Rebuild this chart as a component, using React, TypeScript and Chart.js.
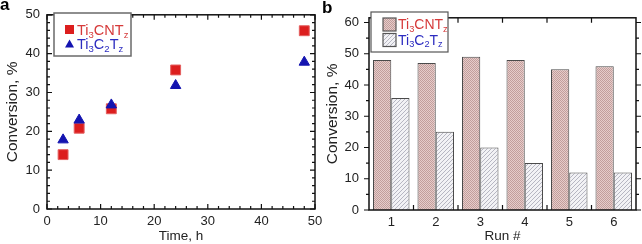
import React, { useEffect, useRef } from "react";
import { Chart, registerables } from "chart.js";

Chart.register(...registerables);

// ---------------- data ----------------
const seriesNames = ["Ti_3CNT_z", "Ti_3C_2T_z"];
const timeHours = [3, 6, 12, 24, 48];
const ti3cntTime = [14, 20.8, 25.8, 35.8, 45.9];
const ti3c2Time = [17.8, 22.9, 26.8, 31.8, 37.8];
const xTicksA = [0, 10, 20, 30, 40, 50];
const yTicksA = [0, 10, 20, 30, 40, 50];

const runLabels = ["1", "2", "3", "4", "5", "6"];
const ti3cntRun = [48, 47, 49, 48, 45, 46];
const ti3c2Run = [35.8, 25, 20, 15, 12, 12];
const yTicksB = [0, 10, 20, 30, 40, 50, 60];

// ---------------- styles ----------------
const FONT = '"Liberation Sans", Arial, Helvetica, sans-serif';
const TXT = "#222";
const RED = "#dc1e1e";
const BLUE = "#1414b0";
const RED_TXT = "#d63a3a";
const BLUE_TXT = "#2c2cc0";

function makeCrossPattern(): CanvasPattern | string {
  const c = document.createElement("canvas");
  c.width = 2;
  c.height = 2;
  const g = c.getContext("2d");
  if (!g) return "#d8baba";
  g.fillStyle = "#e6ccca";
  g.fillRect(0, 0, 2, 2);
  g.fillStyle = "#c29e9c";
  g.fillRect(0, 0, 1, 1);
  g.fillRect(1, 1, 1, 1);
  return g.createPattern(c, "repeat") || "#d8baba";
}

function makeDiagPattern(): CanvasPattern | string {
  const c = document.createElement("canvas");
  c.width = 4;
  c.height = 4;
  const g = c.getContext("2d");
  if (!g) return "#e2e2e6";
  g.fillStyle = "#f2f2f5";
  g.fillRect(0, 0, 4, 4);
  g.fillStyle = "#b6b6c2";
  for (let i = 0; i < 4; i++) g.fillRect(i, 3 - i, 1, 1);
  return g.createPattern(c, "repeat") || "#e2e2e6";
}

// draw text where "_x" renders x as subscript
function drawRich(ctx: CanvasRenderingContext2D, text: string, x: number, yMid: number, size: number, color: string) {
  ctx.save();
  ctx.fillStyle = color;
  ctx.textBaseline = "alphabetic";
  ctx.textAlign = "left";
  const base = yMid + size * 0.36;
  let cx = x;
  let run = "";
  const flush = () => {
    if (!run) return;
    ctx.font = `${size}px ${FONT}`;
    ctx.fillText(run, cx, base);
    cx += ctx.measureText(run).width;
    run = "";
  };
  for (let i = 0; i < text.length; i++) {
    const ch = text[i];
    if (ch === "_" && i + 1 < text.length) {
      flush();
      const s = text[i + 1];
      const fs = size * 0.66;
      ctx.font = `${fs}px ${FONT}`;
      ctx.fillText(s, cx, base + size * 0.2);
      cx += ctx.measureText(s).width;
      i++;
    } else {
      run += ch;
    }
  }
  flush();
  ctx.restore();
}

function panelLabel(text: string, x: number, y: number) {
  return {
    id: "panelLabel",
    afterDraw(chart: any) {
      const ctx = chart.ctx as CanvasRenderingContext2D;
      ctx.save();
      ctx.fillStyle = "#000";
      ctx.font = `bold 17px ${FONT}`;
      ctx.textBaseline = "alphabetic";
      ctx.textAlign = "left";
      ctx.fillText(text, x, y);
      ctx.restore();
    },
  };
}

const frameA = {
  id: "frameA",
  afterDatasetsDraw(chart: any) {
    const ctx = chart.ctx as CanvasRenderingContext2D;
    const { left, right, top, bottom } = chart.chartArea;
    const x = chart.scales.x;
    const y = chart.scales.y;
    ctx.save();
    ctx.strokeStyle = "#111";
    ctx.lineWidth = 1.2;
    ctx.beginPath();
    const minorStep = 2;
    for (let v = xTicksA[0]; v <= xTicksA[xTicksA.length - 1] + 1e-9; v += minorStep) {
      const L = xTicksA.includes(v) ? 5 : 3;
      const px = x.getPixelForValue(v);
      ctx.moveTo(px, bottom);
      ctx.lineTo(px, bottom - L);
      ctx.moveTo(px, top);
      ctx.lineTo(px, top + L);
    }
    for (let v = yTicksA[0]; v <= yTicksA[yTicksA.length - 1] + 1e-9; v += minorStep) {
      const L = yTicksA.includes(v) ? 5 : 3;
      const py = y.getPixelForValue(v);
      ctx.moveTo(left, py);
      ctx.lineTo(left + L, py);
      ctx.moveTo(right, py);
      ctx.lineTo(right - L, py);
    }
    ctx.stroke();
    ctx.lineWidth = 1.5;
    ctx.strokeRect(left, top, right - left, bottom - top);
    ctx.restore();
  },
};

const frameB = {
  id: "frameB",
  afterDatasetsDraw(chart: any) {
    const ctx = chart.ctx as CanvasRenderingContext2D;
    const { left, right, top, bottom } = chart.chartArea;
    const x = chart.scales.x;
    const y = chart.scales.y;
    ctx.save();
    ctx.strokeStyle = "#111";
    ctx.lineWidth = 1.2;
    ctx.beginPath();
    for (let v = 0; v <= y.max + 1e-9; v += 5) {
      const L = yTicksB.includes(v) ? 5 : 3;
      const py = y.getPixelForValue(v);
      ctx.moveTo(left, py);
      ctx.lineTo(left - L, py);
      ctx.moveTo(right, py);
      ctx.lineTo(right + L, py);
    }
    for (let i = 0; i < runLabels.length - 1; i++) {
      const px = (x.getPixelForValue(i) + x.getPixelForValue(i + 1)) / 2;
      ctx.moveTo(px, bottom);
      ctx.lineTo(px, bottom - 5);
      ctx.moveTo(px, top);
      ctx.lineTo(px, top + 5);
    }
    ctx.stroke();
    ctx.lineWidth = 1.5;
    ctx.strokeRect(left, top, right - left, bottom - top);
    ctx.restore();
  },
};

const legendA = {
  id: "legendA",
  afterDraw(chart: any) {
    const ctx = chart.ctx as CanvasRenderingContext2D;
    const ds = chart.data.datasets;
    ctx.save();
    ctx.fillStyle = "#fff";
    ctx.fillRect(54, 13, 77, 43);
    ctx.strokeStyle = "#6a6a6a";
    ctx.lineWidth = 1.5;
    ctx.strokeRect(54, 13, 77, 43);
    // square marker
    ctx.fillStyle = RED;
    ctx.fillRect(65, 25, 9, 9);
    // triangle marker
    ctx.fillStyle = BLUE;
    ctx.beginPath();
    ctx.moveTo(69.5, 39.5);
    ctx.lineTo(74, 47.5);
    ctx.lineTo(65, 47.5);
    ctx.closePath();
    ctx.fill();
    ctx.restore();
    drawRich(ctx, ds[0].label, 77, 29.5, 14.5, RED_TXT);
    drawRich(ctx, ds[1].label, 77, 44, 14.5, BLUE_TXT);
  },
};

const legendB = {
  id: "legendB",
  afterDraw(chart: any) {
    const ctx = chart.ctx as CanvasRenderingContext2D;
    const ds = chart.data.datasets;
    ctx.save();
    ctx.fillStyle = "#fff";
    ctx.fillRect(51, 12, 77, 40);
    ctx.strokeStyle = "#555";
    ctx.lineWidth = 1.2;
    ctx.strokeRect(51, 12, 77, 40);
    ctx.fillStyle = ds[0].backgroundColor;
    ctx.fillRect(63, 18, 13, 13);
    ctx.strokeRect(63, 18, 13, 13);
    ctx.fillStyle = ds[1].backgroundColor;
    ctx.fillRect(63, 33.5, 13, 13);
    ctx.strokeRect(63, 33.5, 13, 13);
    ctx.restore();
    drawRich(ctx, ds[0].label, 78, 24, 14, RED_TXT);
    drawRich(ctx, ds[1].label, 78, 39.5, 14, BLUE_TXT);
  },
};

function configA(): any {
  return {
    type: "scatter",
    data: {
      datasets: [
        {
          label: seriesNames[0],
          data: timeHours.map((t, i) => ({ x: t, y: ti3cntTime[i] })),
          pointStyle: "rect",
          pointRadius: 7,
          backgroundColor: RED,
          borderColor: "#e46060",
          borderWidth: 1,
          order: 1,
        },
        {
          label: seriesNames[1],
          data: timeHours.map((t, i) => ({ x: t, y: ti3c2Time[i] })),
          pointStyle: "triangle",
          pointRadius: 6,
          backgroundColor: BLUE,
          borderColor: BLUE,
          borderWidth: 1,
          order: 0,
        },
      ],
    },
    options: {
      responsive: false,
      animation: false,
      devicePixelRatio: 1,
      layout: { padding: { top: 11, right: 15, left: 0, bottom: 0 } },
      plugins: { legend: { display: false }, tooltip: { enabled: false } },
      scales: {
        x: {
          type: "linear",
          min: xTicksA[0],
          max: xTicksA[xTicksA.length - 1],
          afterBuildTicks: (s: any) => {
            s.ticks = xTicksA.map((v) => ({ value: v }));
          },
          afterFit: (s: any) => {
            s.height = 35;
          },
          grid: { display: false, drawTicks: false },
          border: { display: false },
          ticks: { padding: 5, color: TXT, font: { family: FONT, size: 13 }, autoSkip: false, maxRotation: 0 },
          title: { display: true, text: "Time, h", color: TXT, font: { family: FONT, size: 13.5 }, padding: { top: 0, bottom: 0 } },
        },
        y: {
          type: "linear",
          min: yTicksA[0],
          max: yTicksA[yTicksA.length - 1],
          afterBuildTicks: (s: any) => {
            s.ticks = yTicksA.map((v) => ({ value: v }));
          },
          afterFit: (s: any) => {
            s.width = 47;
          },
          grid: { display: false, drawTicks: false },
          border: { display: false },
          ticks: { padding: 7, color: TXT, font: { family: FONT, size: 13 }, autoSkip: false },
          title: { display: true, text: "Conversion, %", color: TXT, font: { family: FONT, size: 15.5 }, padding: { top: 3, bottom: 0 } },
        },
      },
    },
    plugins: [frameA, legendA, panelLabel("a", 0, 10)],
  };
}

function configB(): any {
  return {
    type: "bar",
    data: {
      labels: runLabels,
      datasets: [
        {
          label: seriesNames[0],
          data: ti3cntRun,
          backgroundColor: makeCrossPattern(),
          borderColor: "#4a4a4a",
          borderWidth: 1,
          categoryPercentage: 0.82,
          barPercentage: 1,
        },
        {
          label: seriesNames[1],
          data: ti3c2Run,
          backgroundColor: makeDiagPattern(),
          borderColor: "#4a4a4a",
          borderWidth: 1,
          categoryPercentage: 0.82,
          barPercentage: 1,
        },
      ],
    },
    options: {
      responsive: false,
      animation: false,
      devicePixelRatio: 1,
      layout: { padding: { top: 11, right: 6, left: 0, bottom: 0 } },
      plugins: { legend: { display: false }, tooltip: { enabled: false } },
      scales: {
        x: {
          type: "category",
          afterFit: (s: any) => {
            s.height = 34;
          },
          grid: { display: false, drawTicks: false },
          border: { display: false },
          ticks: { padding: 5, color: TXT, font: { family: FONT, size: 13 }, autoSkip: false, maxRotation: 0 },
          title: { display: true, text: "Run #", color: TXT, font: { family: FONT, size: 13.5 }, padding: { top: 0, bottom: 0 } },
        },
        y: {
          type: "linear",
          min: 0,
          max: 61.5,
          afterBuildTicks: (s: any) => {
            s.ticks = yTicksB.map((v) => ({ value: v }));
          },
          afterFit: (s: any) => {
            s.width = 49;
          },
          grid: { display: false, drawTicks: false },
          border: { display: false },
          ticks: { padding: 10, color: TXT, font: { family: FONT, size: 13 }, autoSkip: false },
          title: { display: true, text: "Conversion, %", color: TXT, font: { family: FONT, size: 15.5 }, padding: { top: 3, bottom: 0 } },
        },
      },
    },
    plugins: [frameB, legendB, panelLabel("b", 2, 13)],
  };
}

export default function App() {
  const refA = useRef<HTMLCanvasElement>(null);
  const refB = useRef<HTMLCanvasElement>(null);
  useEffect(() => {
    document.body.style.margin = "0";
    if (!refA.current || !refB.current) return;
    const a = new Chart(refA.current, configA());
    const b = new Chart(refB.current, configB());
    return () => {
      a.destroy();
      b.destroy();
    };
  }, []);
  return (
    <div style={{ position: "fixed", left: 0, top: 0, width: 642, height: 244, background: "#fff", overflow: "hidden" }}>
      <canvas ref={refA} width={330} height={244} style={{ position: "absolute", left: 0, top: 0, width: 330, height: 244 }} />
      <canvas ref={refB} width={322} height={244} style={{ position: "absolute", left: 320, top: 0, width: 322, height: 244 }} />
    </div>
  );
}
